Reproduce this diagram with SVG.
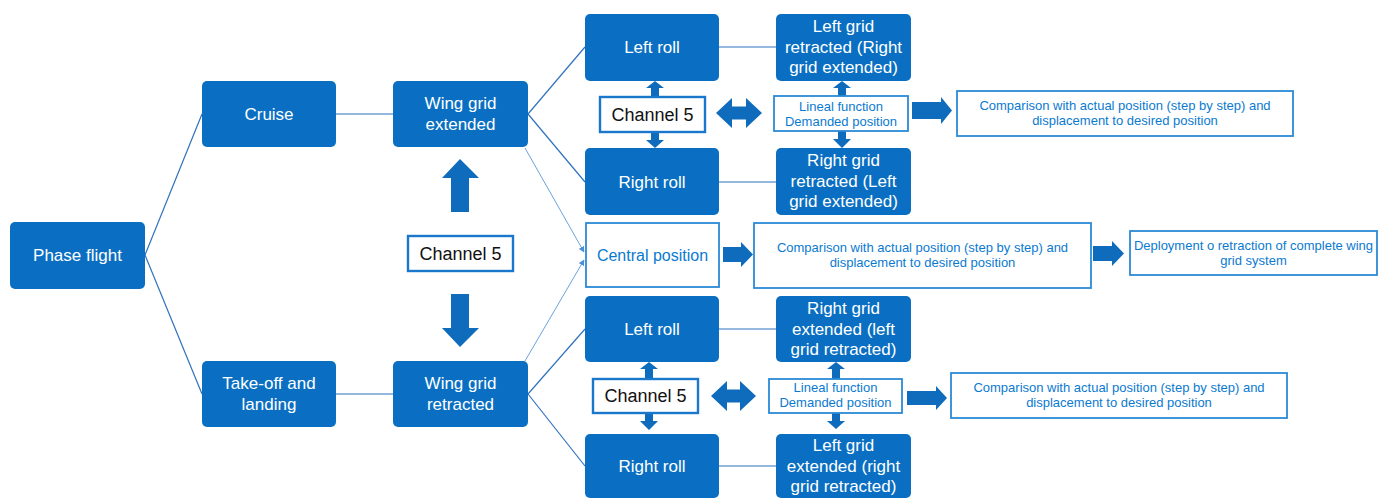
<svg xmlns="http://www.w3.org/2000/svg" width="1378" height="498" viewBox="0 0 1378 498">
<style>
.f{fill:#0a6fc2}
.ft{fill:#fff;font-family:"Liberation Sans",Arial,sans-serif;font-size:17px;text-anchor:middle}
.wb{fill:#fff;stroke:#2a8ad6;stroke-width:1.8}
.cb{fill:#fff;stroke:#1978cc;stroke-width:2.4}
.ct{fill:#111;font-family:"Liberation Sans",Arial,sans-serif;font-size:18px;text-anchor:middle}
.bt{fill:#0a7ad1;font-family:"Liberation Sans",Arial,sans-serif;text-anchor:middle}
.ln{stroke:#2f72bd;stroke-width:1.2;fill:none}
.lt{stroke:#6aa3dd;stroke-width:1;fill:none}
.ar{fill:#0f6cbd}
</style>
<defs>
<marker id="mh" viewBox="0 0 10 10" refX="9" refY="5" markerWidth="6" markerHeight="6" orient="auto">
<path d="M0,0 L10,5 L0,10 z" fill="#4a8fd6"/>
</marker>
</defs>
<rect width="1378" height="498" fill="#fff"/>
<g id="connectors">
<line class="ln" x1="145" y1="255" x2="202" y2="114"/>
<line class="ln" x1="145" y1="255" x2="202" y2="394"/>
<line class="ln" x1="336" y1="114" x2="393" y2="114"/>
<line class="ln" x1="336" y1="394" x2="393" y2="394"/>
<line class="ln" x1="528" y1="114" x2="585" y2="47"/>
<line class="ln" x1="528" y1="114" x2="585" y2="182"/>
<line class="ln" x1="528" y1="394" x2="585" y2="329"/>
<line class="ln" x1="528" y1="394" x2="585" y2="466"/>
<line class="lt" x1="525" y1="148" x2="584" y2="252" marker-end="url(#mh)"/>
<line class="lt" x1="525" y1="361" x2="584" y2="260" marker-end="url(#mh)"/>
<line class="ln" x1="719" y1="47" x2="776" y2="47"/>
<line class="ln" x1="719" y1="182" x2="776" y2="182"/>
<line class="ln" x1="719" y1="329" x2="776" y2="329"/>
<line class="ln" x1="719" y1="466" x2="776" y2="466"/>
<polygon class="ar" points="460,159 479,178 469,178 469,212 451,212 451,178 442,178"/>
<polygon class="ar" points="451,294 469,294 469,328 479,328 460,347 442,328 451,328"/>
<polygon class="ar" points="655,81 664,88 659,88 659,97 651,97 651,88 646,88"/>
<polygon class="ar" points="651,133 659,133 659,140 664,140 655,148 646,140 651,140"/>
<polygon class="ar" points="842,81 851,88 846,88 846,96 838,96 838,88 833,88"/>
<polygon class="ar" points="838,131 846,131 846,139 851,139 842,148 833,139 838,139"/>
<polygon class="ar" points="649,362 658,369 653,369 653,379 645,379 645,369 640,369"/>
<polygon class="ar" points="645,413 653,413 653,421 658,421 649,430 640,421 645,421"/>
<polygon class="ar" points="836,362 845,369 840,369 840,379 832,379 832,369 827,369"/>
<polygon class="ar" points="832,413 840,413 840,421 845,421 836,429 827,421 832,421"/>
<polygon class="ar" points="716,113 732,98 732,106.5 746,106.5 746,98 762,113 746,128 746,119.5 732,119.5 732,128"/>
<polygon class="ar" points="711,396 727,381 727,389.5 740,389.5 740,381 756,396 740,411 740,402.5 727,402.5 727,411"/>
<polygon class="ar" points="912,102 941,102 941,97 952,110.5 941,124 941,119 912,119"/>
<polygon class="ar" points="723,247 741,247 741,242 753,254.5 741,267 741,262 723,262"/>
<polygon class="ar" points="1093,246 1112,246 1112,241 1124,253.5 1112,266 1112,261 1093,261"/>
<polygon class="ar" points="907,391 936,391 936,386 947,398 936,410 936,405 907,405"/>
</g>
<g id="phase-flight"><rect class="f" x="10" y="222" width="135" height="67" rx="5"/><text class="ft" x="77.5" y="261">Phase flight</text></g>
<g id="cruise"><rect class="f" x="202" y="81" width="134" height="66" rx="5"/><text class="ft" x="269" y="120">Cruise</text></g>
<g id="takeoff"><rect class="f" x="202" y="361" width="134" height="66" rx="5"/><text class="ft" x="269" y="389">Take-off and</text><text class="ft" x="269" y="410">landing</text></g>
<g id="wing-ext"><rect class="f" x="393" y="81" width="135" height="66" rx="5"/><text class="ft" x="460.5" y="109">Wing grid</text><text class="ft" x="460.5" y="130">extended</text></g>
<g id="wing-ret"><rect class="f" x="393" y="361" width="135" height="66" rx="5"/><text class="ft" x="460.5" y="389">Wing grid</text><text class="ft" x="460.5" y="410">retracted</text></g>
<g id="channel5-mid"><rect class="cb" x="408" y="236" width="105" height="35"/><text class="ct" x="460.5" y="260">Channel 5</text></g>
<g id="left-roll-1"><rect class="f" x="585" y="14" width="134" height="67" rx="5"/><text class="ft" x="652" y="53">Left roll</text></g>
<g id="right-roll-1"><rect class="f" x="585" y="148" width="134" height="67" rx="5"/><text class="ft" x="652" y="188">Right roll</text></g>
<g id="channel5-top"><rect class="cb" x="600" y="97" width="105" height="35"/><text class="ct" x="652.5" y="121">Channel 5</text></g>
<g id="left-grid-ret"><rect class="f" x="776" y="14" width="135" height="67" rx="5"/><text class="ft" x="843.5" y="32">Left grid</text><text class="ft" x="843.5" y="53">retracted (Right</text><text class="ft" x="843.5" y="73">grid extended)</text></g>
<g id="right-grid-ret"><rect class="f" x="776" y="148" width="135" height="67" rx="5"/><text class="ft" x="843.5" y="166">Right grid</text><text class="ft" x="843.5" y="187">retracted (Left</text><text class="ft" x="843.5" y="207">grid extended)</text></g>
<g id="lineal-top"><rect class="wb" x="774" y="96" width="134" height="35"/><text class="bt" font-size="13" x="841" y="111">Lineal function</text><text class="bt" font-size="13" x="841" y="126">Demanded position</text></g>
<g id="comp-top"><rect class="wb" x="957" y="91" width="336" height="45"/><text class="bt" font-size="13" x="1125" y="110">Comparison with actual position (step by step) and</text><text class="bt" font-size="13" x="1125" y="125">displacement to desired position</text></g>
<g id="central"><rect class="wb" x="586" y="223" width="133" height="64"/><text class="bt" font-size="16" x="652.5" y="261">Central position</text></g>
<g id="comp-mid"><rect class="wb" x="754" y="223" width="337" height="65"/><text class="bt" font-size="13" x="922.5" y="252">Comparison with actual position (step by step) and</text><text class="bt" font-size="13" x="922.5" y="267">displacement to desired position</text></g>
<g id="deploy"><rect class="wb" x="1130" y="231" width="247" height="44"/><text class="bt" font-size="13" x="1253.5" y="250">Deployment o retraction of complete wing</text><text class="bt" font-size="13" x="1253.5" y="265">grid system</text></g>
<g id="left-roll-2"><rect class="f" x="585" y="296" width="134" height="66" rx="5"/><text class="ft" x="652" y="335">Left roll</text></g>
<g id="right-roll-2"><rect class="f" x="585" y="434" width="134" height="64" rx="5"/><text class="ft" x="652" y="472">Right roll</text></g>
<g id="channel5-bot"><rect class="cb" x="593" y="379" width="105" height="34"/><text class="ct" x="645.5" y="402">Channel 5</text></g>
<g id="right-grid-ext"><rect class="f" x="776" y="296" width="135" height="66" rx="5"/><text class="ft" x="843.5" y="314">Right grid</text><text class="ft" x="843.5" y="335">extended (left</text><text class="ft" x="843.5" y="355">grid retracted)</text></g>
<g id="left-grid-ext"><rect class="f" x="776" y="434" width="135" height="64" rx="5"/><text class="ft" x="843.5" y="451">Left grid</text><text class="ft" x="843.5" y="472">extended (right</text><text class="ft" x="843.5" y="492">grid retracted)</text></g>
<g id="lineal-bot"><rect class="wb" x="769" y="379" width="133" height="34"/><text class="bt" font-size="13" x="835.5" y="392">Lineal function</text><text class="bt" font-size="13" x="835.5" y="407">Demanded position</text></g>
<g id="comp-bot"><rect class="wb" x="951" y="373" width="336" height="45"/><text class="bt" font-size="13" x="1119" y="392">Comparison with actual position (step by step) and</text><text class="bt" font-size="13" x="1119" y="407">displacement to desired position</text></g>
</svg>
